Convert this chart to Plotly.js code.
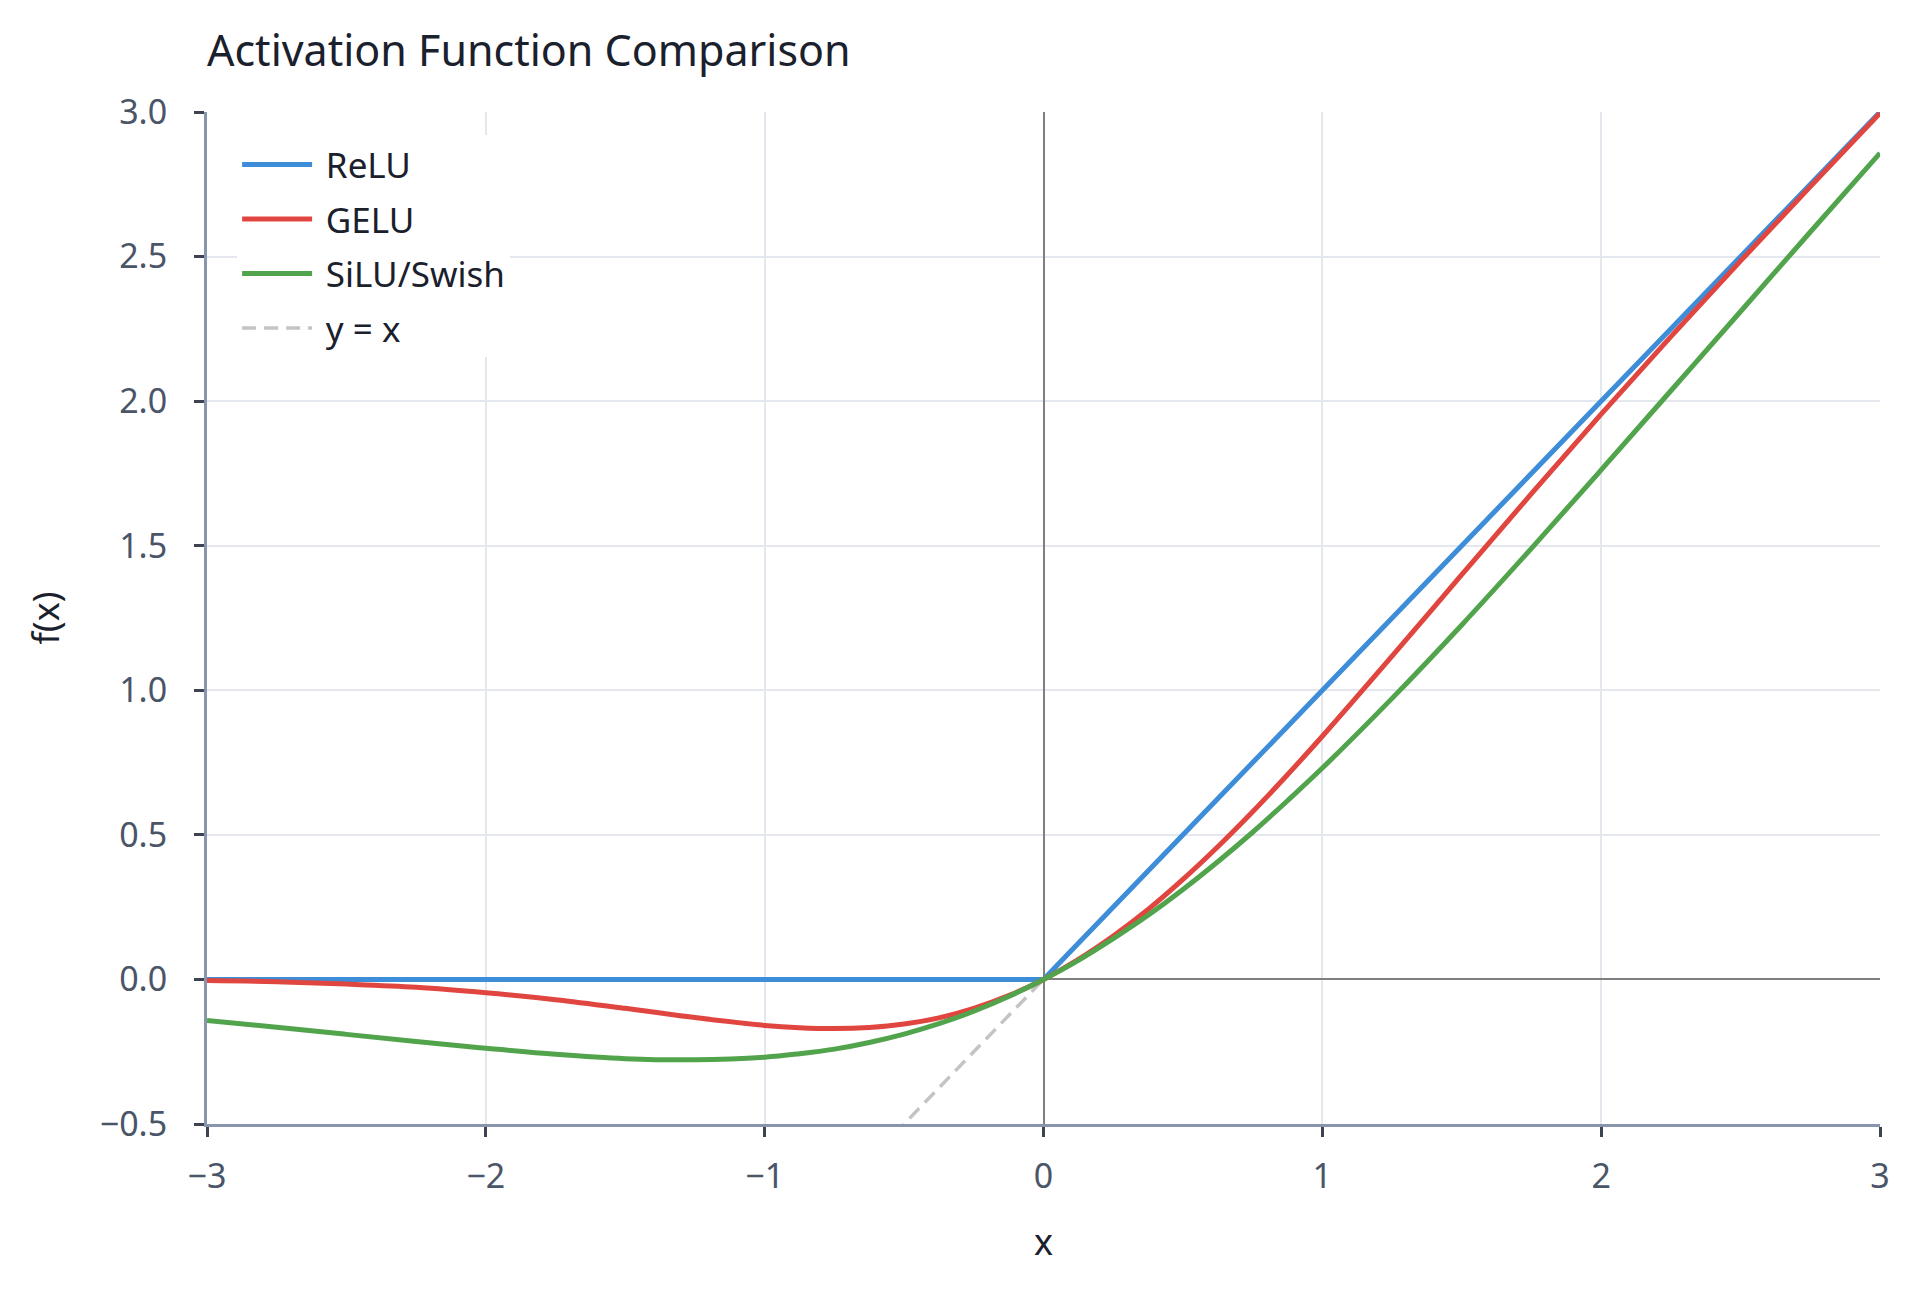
<!DOCTYPE html>
<html>
<head>
<meta charset="utf-8">
<script src="https://cdn.plot.ly/plotly-3.0.1.min.js"></script>
<style>
  html, body { margin: 0; padding: 0; background: #fff; }
  #plot { width: 1920px; height: 1292px; }
</style>
</head>
<body>
<div id="plot"></div>
<script>
// sample points along x
const xs = [-3, -2.75, -2.5, -2.25, -2, -1.75, -1.5, -1.25, -1, -0.875, -0.75, -0.625, -0.5, -0.375, -0.25, -0.125,
  0, 0.125, 0.25, 0.375, 0.5, 0.625, 0.75, 0.875, 1, 1.25, 1.5, 1.75, 2, 2.25, 2.5, 2.75, 3];

const relu = [0, 0, 0, 0, 0, 0, 0, 0, 0, 0, 0, 0, 0, 0, 0, 0,
  0, 0.125, 0.25, 0.375, 0.5, 0.625, 0.75, 0.875, 1, 1.25, 1.5, 1.75, 2, 2.25, 2.5, 2.75, 3];

const gelu = [-0.004, -0.008, -0.016, -0.027, -0.046, -0.070, -0.100, -0.132, -0.159, -0.167, -0.170, -0.166, -0.154, -0.133, -0.100, -0.056,
  0, 0.069, 0.150, 0.242, 0.346, 0.459, 0.580, 0.708, 0.841, 1.118, 1.400, 1.680, 1.955, 2.223, 2.485, 2.742, 2.996];

const silu = [-0.142, -0.165, -0.190, -0.215, -0.238, -0.259, -0.274, -0.278, -0.269, -0.257, -0.241, -0.218, -0.189, -0.153, -0.110, -0.059,
  0, 0.066, 0.141, 0.222, 0.311, 0.407, 0.509, 0.618, 0.731, 0.972, 1.226, 1.491, 1.762, 2.036, 2.310, 2.585, 2.858];

const identityX = [-3, 3];
const identityY = [-3, 3];

const FONT = '"Noto Sans", "Open Sans", sans-serif';
const PAD = '\u2005'; // small gap between legend line and label

const data = [
  {
    x: identityX, y: identityY, type: 'scatter', mode: 'lines', name: PAD + 'y = x',
    line: { color: '#c4c4c4', width: 3.5, dash: '14px,8px' }, legendrank: 4, legendgroup: 'id',
  },
  {
    x: xs, y: relu, type: 'scatter', mode: 'lines', name: PAD + 'ReLU',
    line: { color: '#3d8dd8', width: 5 }, legendrank: 1, legendgroup: 'relu',
  },
  {
    x: xs, y: gelu, type: 'scatter', mode: 'lines', name: PAD + 'GELU',
    line: { color: '#e0463f', width: 5, shape: 'spline' }, legendrank: 2, legendgroup: 'gelu',
  },
  {
    x: xs, y: silu, type: 'scatter', mode: 'lines', name: PAD + 'SiLU/Swish',
    line: { color: '#52a44c', width: 5, shape: 'spline' }, legendrank: 3, legendgroup: 'silu',
  },
];

const axisCommon = {
  showgrid: true,
  gridcolor: '#e4e8ee',
  gridwidth: 2,
  zeroline: true,
  zerolinecolor: '#7f7f7f',
  zerolinewidth: 2,
  showline: true,
  linecolor: '#8796ad',
  linewidth: 3,
  ticks: 'outside',
  ticklen: 10,
  tickwidth: 3,
  tickcolor: '#3d4350',
  tickfont: { family: FONT, size: 34, color: '#4a5568' },
  automargin: false,
};

const layout = {
  width: 1920,
  height: 1292,
  paper_bgcolor: '#ffffff',
  plot_bgcolor: '#ffffff',
  font: { family: FONT, color: '#1a202c' },
  margin: { l: 207, r: 40, t: 112, b: 168 },
  title: {
    text: 'Activation Function Comparison',
    font: { family: FONT, size: 43, color: '#1a202c' },
    x: 0, xref: 'paper', xanchor: 'left',
    y: 0.9605, yref: 'container', yanchor: 'middle',
  },
  xaxis: Object.assign({}, axisCommon, {
    range: [-3, 3],
    dtick: 1,
    tick0: 0,
    ticklabelstandoff: 10,
    title: { text: 'x', font: { family: FONT, size: 36, color: '#1a202c' }, standoff: 34 },
  }),
  yaxis: Object.assign({}, axisCommon, {
    range: [-0.5, 3],
    dtick: 0.5,
    tick0: 0,
    tickformat: '.1f',
    ticklabelstandoff: 20,
    title: { text: 'f(x)', font: { family: FONT, size: 36, color: '#1a202c' }, standoff: 30 },
  }),
  legend: {
    x: 0.018, xanchor: 'left',
    y: 0.977, yanchor: 'top',
    bgcolor: '#ffffff',
    borderwidth: 0,
    itemwidth: 70,
    tracegroupgap: 6,
    font: { family: FONT, size: 35, color: '#1a202c' },
  },
  showlegend: true,
};

Plotly.newPlot('plot', data, layout, { displayModeBar: false, staticPlot: true });
</script>
</body>
</html>
